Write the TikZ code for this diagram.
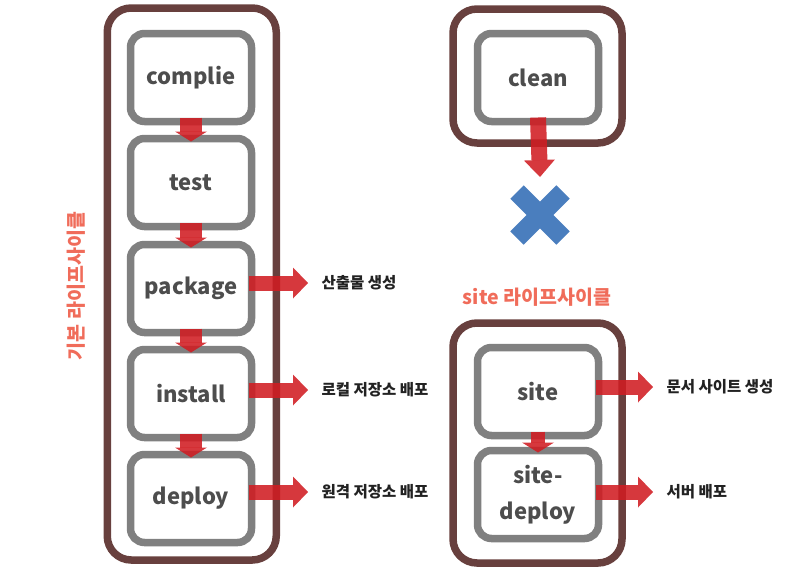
\documentclass[tikz,border=0pt]{standalone}
\usepackage{fontspec}
\setmainfont{Noto Sans CJK KR}
\usepackage{tikz}
\usetikzlibrary{arrows.meta,shapes.misc}
\definecolor{phaseline}{RGB}{104,64,62}
\definecolor{stageline}{RGB}{128,128,128}
\definecolor{stagetext}{RGB}{77,77,77}
\definecolor{notetext}{RGB}{34,34,34}
\definecolor{titlered}{RGB}{240,108,90}
\definecolor{arrowred}{RGB}{208,28,34}
\definecolor{noblue}{RGB}{74,126,190}
\tikzstyle{phase}=[rectangle, draw=phaseline, line width=7.5pt, rounded corners=24pt, outer sep=0pt, minimum width=169pt]
\tikzstyle{stage}=[rectangle, draw=stageline, line width=7.5pt, rounded corners=14pt, outer sep=0pt, minimum width=121pt, minimum height=88pt, text=stagetext, align=center, font=\fontsize{22}{36}\selectfont\bfseries]
\tikzstyle{note}=[anchor=west, text=notetext, font=\fontsize{15.5}{18}\selectfont\bfseries]
\tikzstyle{title}=[text=titlered, font=\fontsize{19.5}{22}\selectfont\bfseries]
\tikzstyle{downarrow}=[draw=arrowred, opacity=.88, line width=22pt, -{Triangle[width=32pt,length=10pt,line width=0pt 0 0]}]
\tikzstyle{sidearrow}=[draw=arrowred, opacity=.88, line width=15pt, -{Triangle[width=31pt,length=15pt,line width=0pt 0 0]}, shorten <=-3pt, shorten >=10pt]
\newcommand{\stage}[3]{
	\node[stage] (#1) at (#2) {#3};}
\newcommand{\phase}[3]{
	\node[phase, minimum height=#3] (#1) at (#2) {};}

\begin{document}
\begin{tikzpicture}[x=1pt, y=-1pt]
	\useasboundingbox (0,0) rectangle (811,582);

	% default lifecycle
	\phase{basic}{191.75,284}{552pt}
	\stage{comp}{191,77.5}{complie}
	\stage{test}{191,182.5}{test}
	\stage{pack}{191,288.5}{package}
	\stage{inst}{191,393.5}{install}
	\stage{depl}{191,498.5}{deploy}
	\node[title, rotate=90] (basictitle) at (76,286) {기본 라이프사이클};

	% clean lifecycle
	\phase{clean}{537.5,76}{134pt}
	\stage{cln}{538,77.5}{clean}
	\node[cross out, draw=noblue, line width=19pt, outer sep=0pt, minimum size=46pt] (nox) at (540,215) {};

	% site lifecycle
	\phase{site}{537.5,443}{240pt}
	\stage{ste}{538,391.5}{site}
	\stage{sdep}{538,494.5}{site-\\deploy}
	\node[title] (sitetitle) at (537,297) {site 라이프사이클};

	\node[note] (lpack) at (318,283) {산출물 생성};
	\node[note] (linst) at (318,390) {로컬 저장소 배포};
	\node[note] (ldepl) at (318,492) {원격 저장소 배포};
	\node[note] (lste) at (663,387) {문서 사이트 생성};
	\node[note] (lsdep) at (663,492) {서버 배포};

	\draw[downarrow] ([yshift=4pt]comp.south) -- ([yshift=-3pt]test.north);
	\draw[downarrow] ([yshift=4pt]test.south) -- ([yshift=-3pt]pack.north);
	\draw[downarrow] ([yshift=4pt]pack.south) -- ([yshift=-3pt]inst.north);
	\draw[downarrow] ([yshift=4pt]inst.south) -- ([yshift=-3pt]depl.north);
	\draw[downarrow, line width=14pt] ([yshift=4pt]ste.south) -- ([yshift=-2pt]sdep.north);
	\draw[downarrow, line width=16pt, -{Triangle[width=31pt,length=17pt,line width=0pt 0 0]}] ([yshift=4pt]cln.south) -- ([yshift=15pt]nox.north);

	\draw[sidearrow] (pack.east |- lpack.west) -- (lpack.west);
	\draw[sidearrow] (inst.east |- linst.west) -- (linst.west);
	\draw[sidearrow] (depl.east |- ldepl.west) -- (ldepl.west);
	\draw[sidearrow] (ste.east |- lste.west) -- (lste.west);
	\draw[sidearrow] (sdep.east |- lsdep.west) -- (lsdep.west);
\end{tikzpicture}
\end{document}
